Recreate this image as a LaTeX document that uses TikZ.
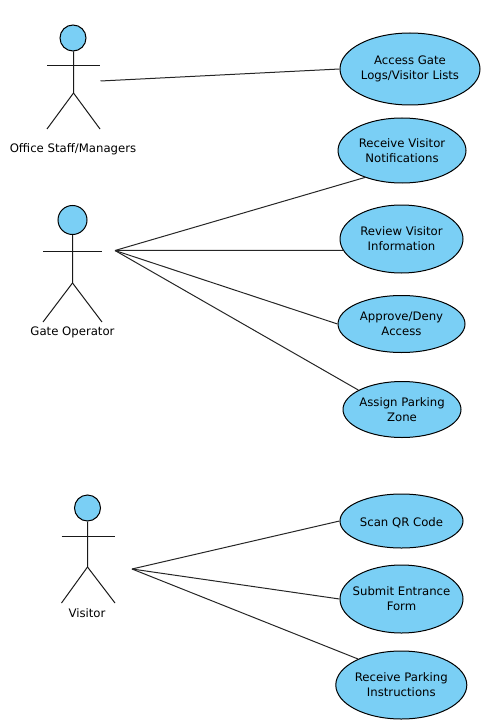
\documentclass[tikz,border=0pt]{standalone}
\usepackage{fontspec}
\setmainfont{DejaVu Sans}
\usetikzlibrary{shapes.geometric}
\definecolor{usefill}{HTML}{7ACFF5}
\tikzset{
	usecase/.style={
		ellipse,
		draw,
		line width=1pt,
		fill=usefill,
		inner sep=-16pt,
		align=center,
		execute at begin node={\rule{0pt}{12pt}},
		font=\fontsize{11.7}{15}\selectfont},
	head/.style={
		circle,
		draw,
		line width=1pt,
		fill=usefill,
		inner sep=0pt},
	actorname/.style={
		inner sep=0pt,
		font=\fontsize{11.7}{15}\selectfont},
	stick/.style={line width=1pt, black!90},
	every edge/.style={
		draw,
		line width=1pt,
		black!85}
}
\begin{document}
\begin{tikzpicture}[x=1pt,y=-1pt]
	\useasboundingbox (0,0) rectangle (493,722);
	% use cases
	\node[usecase, minimum width=140pt, minimum height=72pt] (E1) at (410,69) {Access Gate\\Logs/Visitor Lists};
	\node[usecase, minimum width=128pt, minimum height=65pt] (E2) at (402,150.5) {Receive Visitor\\Notifications};
	\node[usecase, minimum width=123pt, minimum height=68pt] (E3) at (401.5,239) {Review Visitor\\Information};
	\node[usecase, minimum width=127pt, minimum height=57pt] (E4) at (401.5,324) {Approve/Deny\\Access};
	\node[usecase, minimum width=118pt, minimum height=56pt] (E5) at (402,409.5) {Assign Parking\\Zone};
	\node[usecase, minimum width=123pt, minimum height=54pt] (E6) at (401.5,521) {Scan QR Code};
	\node[usecase, minimum width=123pt, minimum height=68pt] (E7) at (401.5,599) {Submit Entrance\\Form};
	\node[usecase, minimum width=131pt, minimum height=68pt] (E8) at (401.3,685) {Receive Parking\\Instructions};
	% office staff
	\node[head, minimum size=26pt] (HeadA) at (73,38) {};
	\coordinate (HipA) at (73.5,93);
	\coordinate (ArmAl) at (47,65.5);
	\coordinate (ArmAr) at (100,65.5);
	\coordinate (FootAl) at (47,129);
	\coordinate (FootAr) at (100,129);
	\coordinate (LinkA) at (100.5,81);
	\draw[stick] (HeadA.south -| HipA) -- (HipA) -- (FootAl);
	\draw[stick] (HipA) -- (FootAr);
	\draw[stick] (ArmAl) -- (ArmAr);
	\node[actorname] (NameA) at (73,149.5) {Office Staff/Managers};
	% gate operator
	\node[head, minimum size=29pt] (HeadB) at (72.5,220) {};
	\coordinate (HipB) at (72.5,283);
	\coordinate (ArmBl) at (43,251.5);
	\coordinate (ArmBr) at (102,251.5);
	\coordinate (FootBl) at (43,322);
	\coordinate (FootBr) at (102,322);
	\coordinate (LinkB) at (115,250.5);
	\draw[stick] (HeadB) -- (HipB) -- (FootBl);
	\draw[stick] (HipB) -- (FootBr);
	\draw[stick] (ArmBl) -- (ArmBr);
	\node[actorname] (NameB) at (72.5,332) {Gate Operator};
	% visitor
	\node[head, minimum size=26pt] (HeadC) at (87.5,508) {};
	\coordinate (HipC) at (87.5,567);
	\coordinate (ArmCl) at (61.5,536.5);
	\coordinate (ArmCr) at (115,536.5);
	\coordinate (FootCl) at (61.5,603);
	\coordinate (FootCr) at (115,603);
	\coordinate (LinkC) at (132,569);
	\draw[stick] (HeadC) -- (HipC) -- (FootCl);
	\draw[stick] (HipC) -- (FootCr);
	\draw[stick] (ArmCl) -- (ArmCr);
	\node[actorname] (NameC) at (87,613.5) {Visitor};
	% associations
	\draw (LinkA) edge (E1.west);
	\draw (LinkB) edge (E2.216);
	\draw (LinkB) edge (E3.191);
	\draw (LinkB) edge (E4.west);
	\draw (LinkB) edge (E5.156);
	\draw (LinkC) edge (E6.west);
	\draw (LinkC) edge (E7.west);
	\draw (LinkC) edge (E8.149);
\end{tikzpicture}
\end{document}
